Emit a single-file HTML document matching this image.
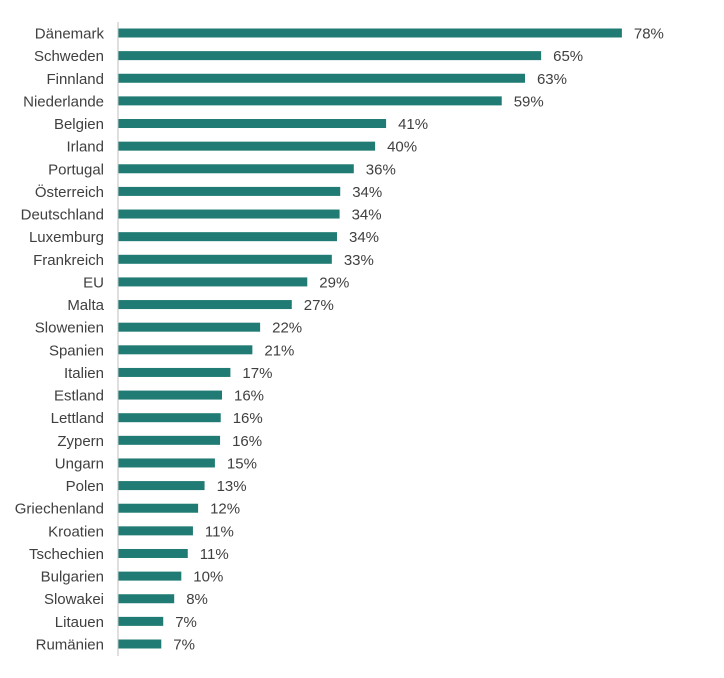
<!DOCTYPE html>
<html><head><meta charset="utf-8">
<style>
body{margin:0;background:#fff;}
svg{display:block;font-family:"Liberation Sans",sans-serif;}
text{fill:#404040;font-size:15px;}
</style></head>
<body>
<svg id="chart" width="724" height="678" viewBox="0 0 724 678"></svg>
<script>
const categories=["Dänemark","Schweden","Finnland","Niederlande","Belgien","Irland","Portugal","Österreich","Deutschland","Luxemburg","Frankreich","EU","Malta","Slowenien","Spanien","Italien","Estland","Lettland","Zypern","Ungarn","Polen","Griechenland","Kroatien","Tschechien","Bulgarien","Slowakei","Litauen","Rumänien"];
const values=[78,65.5,63,59.4,41.5,39.8,36.5,34.4,34.3,33.9,33.1,29.3,26.9,22,20.8,17.4,16.1,15.9,15.8,15,13.4,12.4,11.6,10.8,9.8,8.7,7,6.7];
const valueLabels=["78%","65%","63%","59%","41%","40%","36%","34%","34%","34%","33%","29%","27%","22%","21%","17%","16%","16%","16%","15%","13%","12%","11%","11%","10%","8%","7%","7%"];
const svg=document.getElementById('chart');
const NS='http://www.w3.org/2000/svg';
const x0=118,pxPer=6.46,y0=33,step=(644-33)/27,bh=9;
function xScale(v){return x0+v*pxPer;}
function yScale(i){return y0+i*step;}
const axis=document.createElementNS(NS,'line');


axis.setAttribute('x1',x0);axis.setAttribute('x2',x0);axis.setAttribute('y1',22);axis.setAttribute('y2',656);
axis.setAttribute('stroke','#bfbfbf');axis.setAttribute('stroke-width','1');
svg.appendChild(axis);
categories.forEach((c,i)=>{
  const y=yScale(i);
  const r=document.createElementNS(NS,'rect');
  
  
  r.setAttribute('x',x0+0.5);r.setAttribute('y',y-bh/2);
  r.setAttribute('width',xScale(values[i])-x0-0.5);r.setAttribute('height',bh);
  r.setAttribute('fill','#1f7b74');
  svg.appendChild(r);
  const t=document.createElementNS(NS,'text');
  
  
  t.setAttribute('x',x0-14);t.setAttribute('y',y+5.5);t.setAttribute('text-anchor','end');
  t.textContent=c;svg.appendChild(t);
  const v=document.createElementNS(NS,'text');
  
  
  v.setAttribute('x',xScale(values[i])+12);v.setAttribute('y',y+5.5);
  v.textContent=valueLabels[i];svg.appendChild(v);
});
</script>
</body></html>
